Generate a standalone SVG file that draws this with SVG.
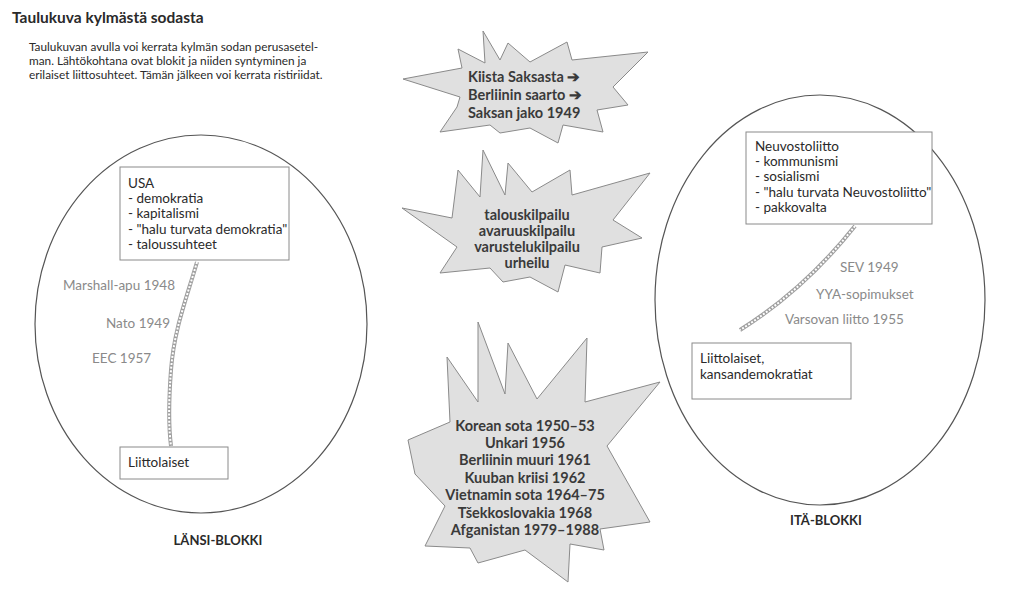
<svg xmlns="http://www.w3.org/2000/svg" width="1019" height="590" viewBox="0 0 1019 590">
<style>
.t{font-family:Lato,"Open Sans","Liberation Sans",sans-serif;fill:#2a2a2a}
.body{font-size:13.5px}
.gray{font-size:13.5px;fill:#8a8a8a}
.burst{fill:#e0e0e0;stroke:#8a8a8a;stroke-width:1}
.bt{font-size:14.5px;font-weight:bold;fill:#3a3a3a}
.box{fill:#fff;stroke:#8a8a8a;stroke-width:1}
.ell{fill:none;stroke:#555;stroke-width:1.2}
.chainA{fill:none;stroke:#a0a0a0;stroke-width:4}
.chainB{fill:none;stroke:#fff;stroke-width:2;stroke-dasharray:2 1.6}
</style>
<rect width="1019" height="590" fill="#fff"/>
<g id="header">
<text class="t" x="12" y="23" font-size="15.5" font-weight="bold">Taulukuva kylmästä sodasta</text>
<text class="t" x="29" y="51" font-size="11.8">Taulukuvan avulla voi kerrata kylmän sodan perusasetel-</text>
<text class="t" x="29" y="65" font-size="11.8">man. Lähtökohtana ovat blokit ja niiden syntyminen ja</text>
<text class="t" x="29" y="79" font-size="11.8">erilaiset liittosuhteet. Tämän jälkeen voi kerrata ristiriidat.</text>
</g>
<g id="west-bloc">
<ellipse class="ell" cx="201" cy="324" rx="166" ry="189"/>
<text class="t" x="218" y="545" font-size="13" font-weight="bold" text-anchor="middle">LÄNSI-BLOKKI</text>
<text class="t gray" x="63" y="290">Marshall-apu 1948</text>
<text class="t gray" x="106" y="328">Nato 1949</text>
<text class="t gray" x="92" y="363">EEC 1957</text>
</g>
<g id="east-bloc">
<ellipse class="ell" cx="820" cy="300" rx="165" ry="205"/>
<text class="t" x="826" y="525" font-size="13" font-weight="bold" text-anchor="middle">ITÄ-BLOKKI</text>
<text class="t gray" x="840" y="272">SEV 1949</text>
<text class="t gray" x="816" y="299">YYA-sopimukset</text>
<text class="t gray" x="785" y="324">Varsovan liitto 1955</text>
</g>
<g id="connectors">
<path class="chainA" d="M197,262 C186,300 174,330 171,370 C168,410 169,430 171,446"/>
<path class="chainB" d="M197,262 C186,300 174,330 171,370 C168,410 169,430 171,446"/>
<path class="chainA" d="M855,226 C820,270 780,305 740,330"/>
<path class="chainB" d="M855,226 C820,270 780,305 740,330"/>
</g>
<g id="usa">
<rect class="box" x="120" y="167" width="169" height="93"/>
<text class="t body" x="128" y="188">USA</text>
<text class="t body" x="128" y="203">- demokratia</text>
<text class="t body" x="128" y="218">- kapitalismi</text>
<text class="t body" x="128" y="234">- "halu turvata demokratia"</text>
<text class="t body" x="128" y="249">- taloussuhteet</text>
</g>
<g id="west-allies">
<rect class="box" x="120" y="447" width="108" height="32"/>
<text class="t body" x="128" y="467">Liittolaiset</text>
</g>
<g id="ussr">
<rect class="box" x="746" y="132" width="186" height="92"/>
<text class="t body" x="755" y="151">Neuvostoliitto</text>
<text class="t body" x="755" y="166">- kommunismi</text>
<text class="t body" x="755" y="181">- sosialismi</text>
<text class="t body" x="755" y="197">- "halu turvata Neuvostoliitto"</text>
<text class="t body" x="755" y="212">- pakkovalta</text>
</g>
<g id="east-allies">
<rect class="box" x="692" y="343" width="159" height="56"/>
<text class="t body" x="700" y="363">Liittolaiset,</text>
<text class="t body" x="700" y="379">kansandemokratiat</text>
</g>
<g id="germany">
<polygon class="burst" points="403,79 462,68 458,49 485,63 483,31 500,60 508,43 530,62 567,42 572,60 648,52 613,87 628,105 597,110 603,132 563,125 558,143 530,128 500,133 490,125 440,132 457,107 460,97"/>
<text class="t bt" x="468" y="82">Kiista Saksasta ➔</text>
<text class="t bt" x="468" y="100">Berliinin saarto ➔</text>
<text class="t bt" x="468" y="118">Saksan jako 1949</text>
</g>
<g id="competition">
<polygon class="burst" points="402,208 452,218 458,170 480,197 483,150 505,195 508,163 532,192 570,170 572,195 650,173 613,220 642,238 602,247 600,273 565,265 558,292 530,277 503,282 490,268 440,273 457,247"/>
<text class="t bt" x="527" y="220" text-anchor="middle">talouskilpailu</text>
<text class="t bt" x="527" y="236" text-anchor="middle">avaruuskilpailu</text>
<text class="t bt" x="527" y="252" text-anchor="middle">varustelukilpailu</text>
<text class="t bt" x="527" y="268" text-anchor="middle">urheilu</text>
</g>
<g id="crises">
<polygon class="burst" points="408,440 450,422 447,357 478,402 478,322 505,394 508,343 537,399 587,338 585,402 660,382 607,446 650,522 600,529 604,550 570,544 568,582 525,550 478,563 470,548 425,546 445,506 415,474"/>
<text class="t bt" x="525" y="431" text-anchor="middle">Korean sota 1950–53</text>
<text class="t bt" x="525" y="448" text-anchor="middle">Unkari 1956</text>
<text class="t bt" x="525" y="465" text-anchor="middle">Berliinin muuri 1961</text>
<text class="t bt" x="525" y="483" text-anchor="middle">Kuuban kriisi 1962</text>
<text class="t bt" x="525" y="500" text-anchor="middle">Vietnamin sota 1964–75</text>
<text class="t bt" x="525" y="518" text-anchor="middle">Tšekkoslovakia 1968</text>
<text class="t bt" x="525" y="535" text-anchor="middle">Afganistan 1979–1988</text>
</g>
</svg>
